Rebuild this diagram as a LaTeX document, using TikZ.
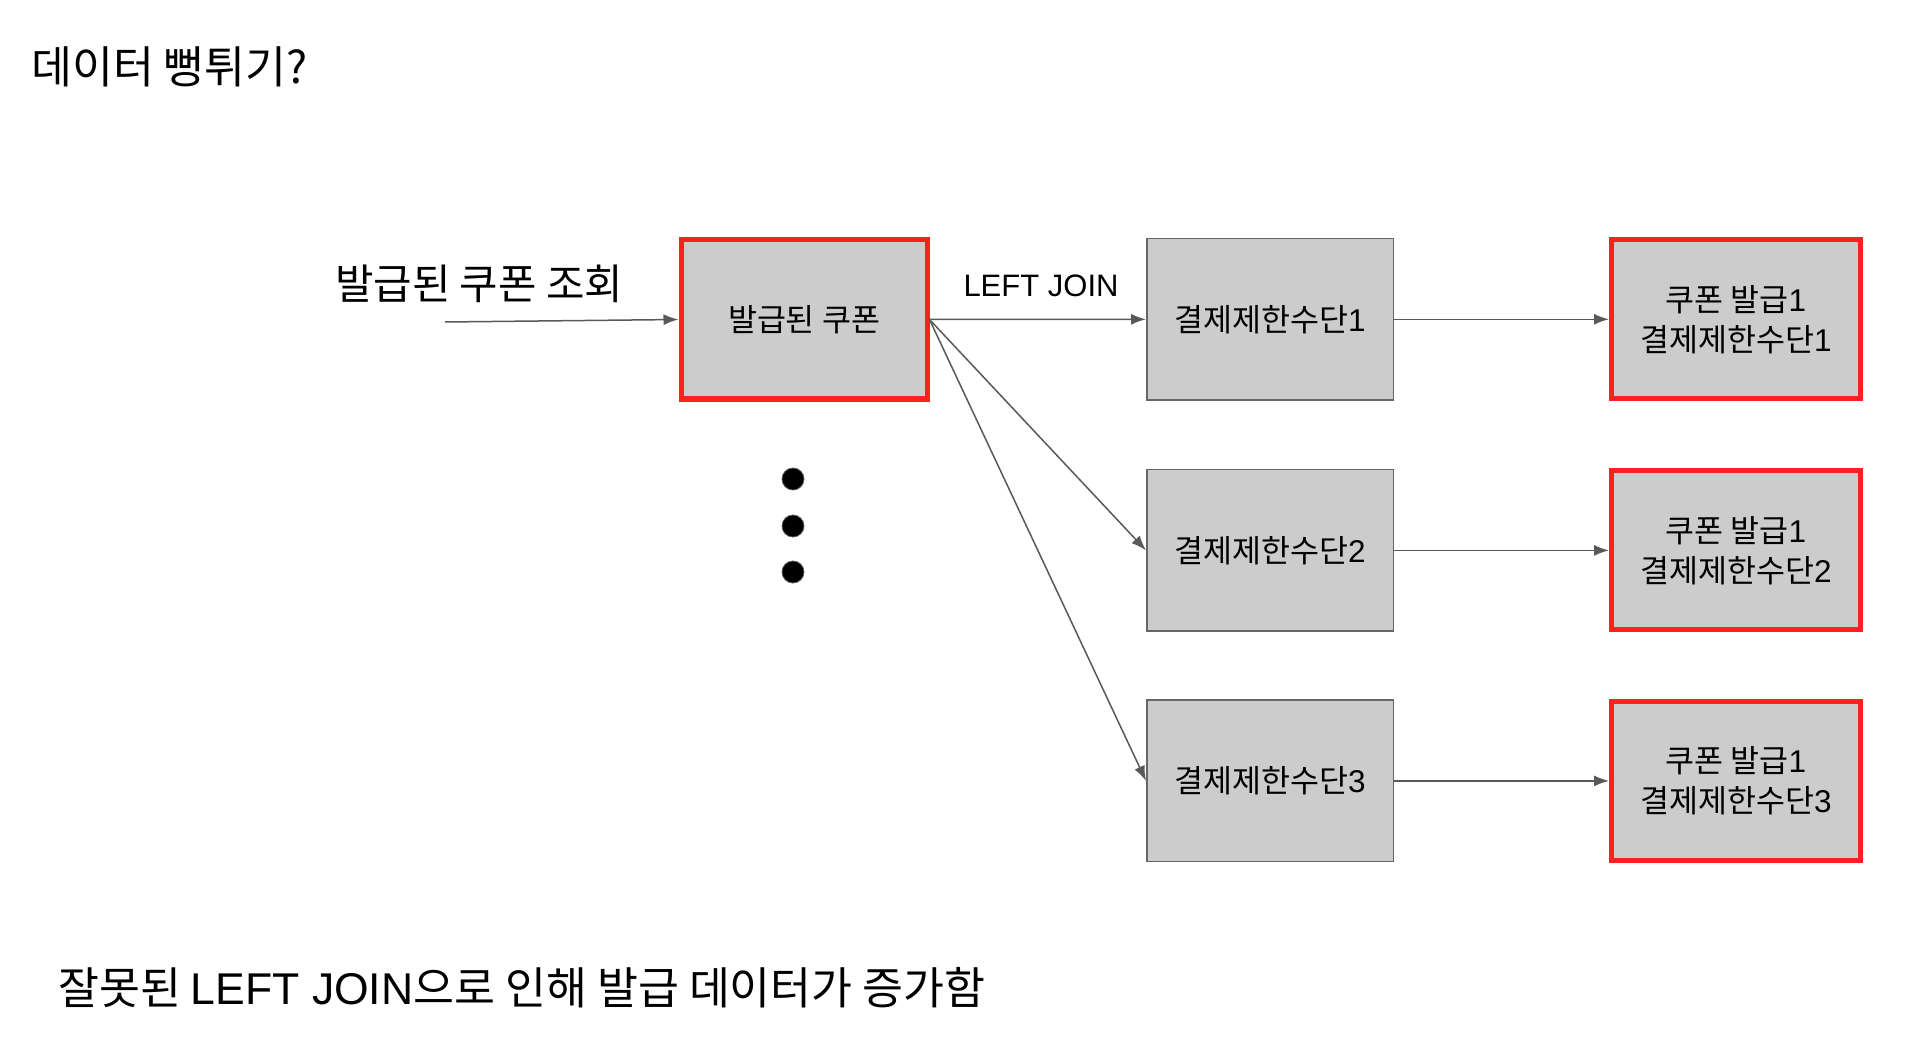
\documentclass[tikz,border=0pt]{standalone}
\usepackage{fontspec}
\setmainfont{Noto Sans CJK KR}
\newfontfamily\lat{Liberation Sans}
\usetikzlibrary{arrows.meta}
\definecolor{boxgray}{HTML}{CCCCCC}
\definecolor{edgegray}{HTML}{666666}
\definecolor{arrowgray}{HTML}{595959}
\definecolor{hotred}{HTML}{FF2020}
\tikzset{
  graybox/.style={draw=edgegray, line width=1.5pt, fill=boxgray, minimum width=246.5pt, minimum height=161.5pt, inner sep=0pt, align=center, font=\fontsize{31.5}{40}\selectfont},
  redbox/.style={draw=hotred, line width=5pt, fill=boxgray, minimum width=246pt, minimum height=159pt, inner sep=0pt, align=center, font=\fontsize{31.5}{40}\selectfont},
  conn/.style={draw=arrowgray, line width=1.5pt, -{Latex[length=15pt,width=11pt]}},
  dot/.style={circle, fill=black, draw=arrowgray, line width=0.8pt, minimum size=22pt, inner sep=0pt},
  plain/.style={inner sep=0pt, anchor=west}
}
\begin{document}
\begin{tikzpicture}[x=1pt,y=-1pt]
\useasboundingbox (0,0) rectangle (1922,1048);
\fill[white] (0,0) rectangle (1922,1048);

\node[plain, font=\fontsize{44.5}{52}\selectfont] (title) at (31,67) {데이터 뻥튀기?};
\node[plain, font=\fontsize{41.8}{48}\selectfont] (query) at (335,284) {발급된 쿠폰 조회};
\coordinate (qstart) at (445,322);

\node[redbox] (A) at (804,319.5) {발급된 쿠폰};

\node[graybox] (P1) at (1270,319.3) {결제제한수단{\lat 1}};
\node[graybox] (P2) at (1270,550.4) {결제제한수단{\lat 2}};
\node[graybox] (P3) at (1270,780.9) {결제제한수단{\lat 3}};

\node[redbox, minimum width=249pt] (R1) at (1736,319.3) {쿠폰 발급{\lat 1}\\결제제한수단{\lat 1}};
\node[redbox, minimum width=249pt] (R2) at (1736,550.4) {쿠폰 발급{\lat 1}\\결제제한수단{\lat 2}};
\node[redbox, minimum width=249pt] (R3) at (1736,780.9) {쿠폰 발급{\lat 1}\\결제제한수단{\lat 3}};

\node[inner sep=0pt, font=\lat\fontsize{31}{36}\selectfont] (lj) at (1041,286) {LEFT JOIN};

\node[dot] (d1) at (793,479) {};
\node[dot] (d2) at (793,526) {};
\node[dot] (d3) at (793,572) {};

\node[plain, font=\fontsize{44.5}{52}\selectfont] (bottom) at (58,988) {잘못된 {\lat LEFT JOIN}으로 인해 발급 데이터가 증가함};

\draw[conn] (qstart) -- (A.west);
\draw[conn] (A.east) -- (P1.west);
\draw[conn] (A.east) -- (P2.west);
\draw[conn] (A.east) -- (P3.west);
\draw[conn] (P1.east) -- (R1.west);
\draw[conn] (P2.east) -- (R2.west);
\draw[conn] (P3.east) -- (R3.west);
\end{tikzpicture}
\end{document}
